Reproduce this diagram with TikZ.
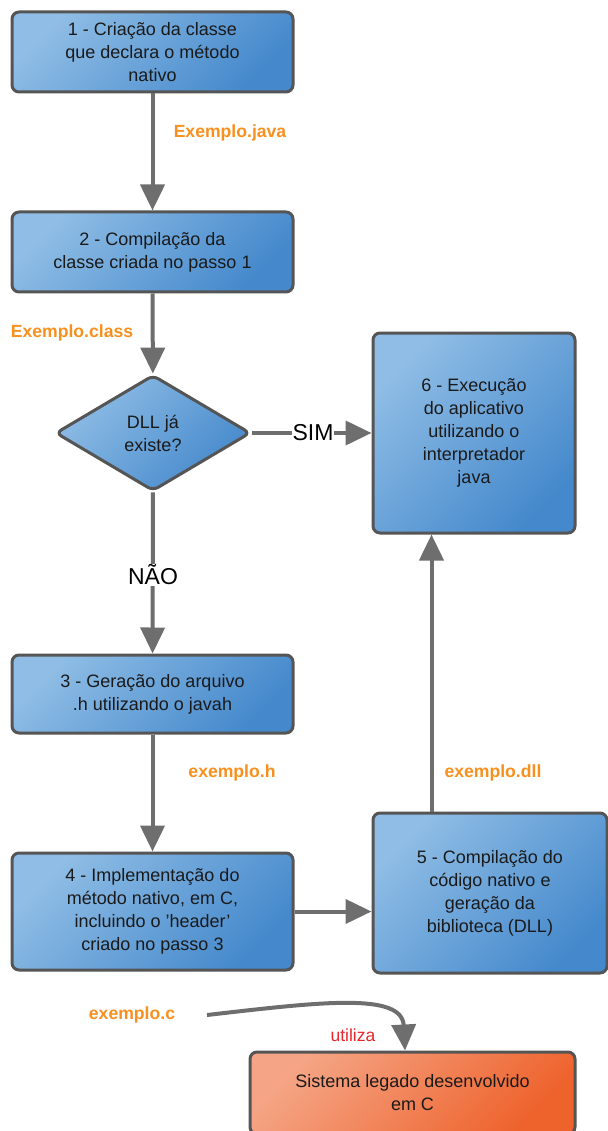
\documentclass[tikz,border=0pt]{standalone}
\usepackage{fontspec}
\setmainfont{Liberation Sans}
\usetikzlibrary{arrows.meta,shapes.geometric,calc}
\definecolor{blueL}{HTML}{8FBDE5}
\definecolor{blueD}{HTML}{4589CC}
\definecolor{orngL}{HTML}{F5A585}
\definecolor{orngD}{HTML}{EE622C}
\definecolor{edge}{HTML}{555555}
\definecolor{link}{HTML}{6E6E6E}
\definecolor{fileorange}{HTML}{F7901E}
\definecolor{usered}{HTML}{E8262C}
\definecolor{ink}{HTML}{1A1A1A}
\newcommand{\sq}{\char"0027\relax}
\tikzset{
  stepbox/.style={draw=edge, line width=3pt, rounded corners=7pt,
    top color=blueL, bottom color=blueD, shading angle=45,
    align=center, text=ink, inner sep=0pt,
    font=\fontsize{18}{23}\selectfont},
  legacybox/.style={stepbox, top color=orngL, bottom color=orngD, shading angle=45},
  decision/.style={diamond, draw=edge, line width=3pt, rounded corners=6pt,
    top color=blueL, bottom color=blueD, shading angle=45,
    align=center, text=ink, inner sep=0pt,
    minimum width=195pt, minimum height=116pt, aspect=1.68,
    font=\fontsize{18}{23}\selectfont},
  flow/.style={draw=link, line width=4pt, -{Triangle[length=26pt,width=24pt]}},
  filelabel/.style={text=fileorange, font=\fontsize{17.6}{20}\selectfont\bfseries},
  branch/.style={fill=white, inner sep=1pt, text=black, font=\fontsize{23}{26}\selectfont},
  uselabel/.style={text=usered, font=\fontsize{17.5}{20}\selectfont}
}
\begin{document}
\begin{tikzpicture}[x=1pt,y=-1pt]
\useasboundingbox (0,0) rectangle (607,1131);

% process steps
\node[stepbox, minimum width=281pt, minimum height=80pt] (b1) at (152.5,52)
  {1 - Criação da classe\\que declara o método\\nativo};
\node[stepbox, minimum width=281pt, minimum height=80pt] (b2) at (152.5,252)
  {2 - Compilação da\\classe criada no passo 1};
\node[decision] (d) at (153,433) {DLL já\\existe?};
\node[stepbox, minimum width=202pt, minimum height=200pt] (b6) at (474,433)
  {6 - Execução\\do aplicativo\\utilizando o\\interpretador\\java};
\node[stepbox, minimum width=281pt, minimum height=78pt] (b3) at (152.5,694)
  {3 - Geração do arquivo\\.h utilizando o javah};
\node[stepbox, minimum width=281pt, minimum height=117pt] (b4) at (152.5,911.5)
  {4 - Implementação do\\método nativo, em C,\\incluindo o \sq header\sq\\criado no passo 3};
\node[stepbox, minimum width=234pt, minimum height=160pt] (b5) at (490,893)
  {5 - Compilação do\\código nativo e\\geração da\\biblioteca (DLL)};
\node[legacybox, minimum width=325pt, minimum height=82pt] (leg) at (412.5,1093)
  {Sistema legado desenvolvido\\em C};

% connectors
\draw[flow] (b1) -- (b2);
\draw[flow] (b2) -- (d);
\draw[flow] (d.east) -- (b6.west);
\draw[flow] (d) -- (b3);
\draw[flow] (b3) -- (b4);
\draw[flow] (b4.east) -- (b4.east -| b5.west);
\draw[flow] ($(b5.north west)+(60,0)$) -- ($(b6.south west)+(60,0)$);

% branch labels
\node[branch] (sim) at (313,433) {SIM};
\node[branch] (nao) at (153,575) {NÃO};

% file labels
\node[filelabel] (fjava) at (230,133) {Exemplo.java};
\node[filelabel] (fclass) at (72,333) {Exemplo.class};
\node[filelabel] (fh) at (232,773) {exemplo.h};
\node[filelabel] (fdll) at (493,773) {exemplo.dll};
\node[filelabel] (fc) at (132,1015) {exemplo.c};

% source file uses the legacy system
\coordinate (cstart) at (207,1015);
\draw[flow] (cstart) .. controls (320,1002) and (402,992) .. (leg.north -| 405,0);
\node[uselabel] (uses) at (353,1035) {utiliza};
\end{tikzpicture}
\end{document}
